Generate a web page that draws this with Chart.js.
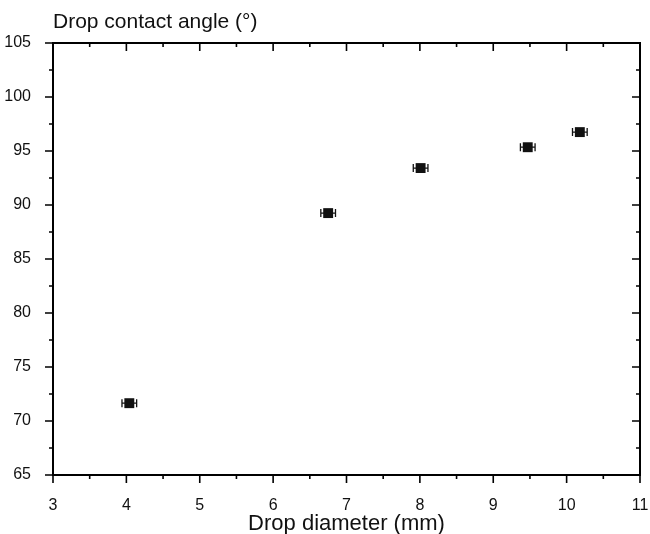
<!DOCTYPE html>
<html>
<head>
<meta charset="utf-8">
<script src="https://cdn.jsdelivr.net/npm/chart.js@4.4.0/dist/chart.umd.min.js"></script>
<style>
  html, body { margin: 0; padding: 0; background: #fff; }
  #wrap { width: 650px; height: 534px; }
</style>
</head>
<body>
<div id="wrap"><canvas id="angle"></canvas></div>
<script>
// drop diameter (mm) vs contact angle (deg)
const diameters = [4.04, 6.75, 8.01, 9.47, 10.18];
const angles = [71.65, 89.25, 93.42, 95.35, 96.75];
const diameterErr = [0.1, 0.1, 0.1, 0.1, 0.1];
const xTicks = [3, 4, 5, 6, 7, 8, 9, 10, 11];
const yTicks = [65, 70, 75, 80, 85, 90, 95, 100, 105];

const fontFamily = "'Liberation Sans', Arial, sans-serif";

const points = diameters.map((d, i) => ({ x: d, y: angles[i] }));

// frame, ticks, error bars and the y title
const frame = {
  id: "frame",
  beforeDatasetsDraw(chart) {
    const ctx = chart.ctx;
    const xs = chart.scales.x, ys = chart.scales.y;
    ctx.save();
    ctx.strokeStyle = "#111";
    ctx.lineWidth = 1.3;
    for (let i = 0; i < diameters.length; i++) {
      const y = ys.getPixelForValue(angles[i]);
      const x1 = xs.getPixelForValue(diameters[i] - diameterErr[i]);
      const x2 = xs.getPixelForValue(diameters[i] + diameterErr[i]);
      ctx.beginPath();
      ctx.moveTo(x1, y); ctx.lineTo(x2, y);
      ctx.moveTo(x1, y - 4); ctx.lineTo(x1, y + 4);
      ctx.moveTo(x2, y - 4); ctx.lineTo(x2, y + 4);
      ctx.stroke();
    }
    ctx.restore();
  },
  afterDraw(chart) {
    const ctx = chart.ctx;
    const a = chart.chartArea;
    const xs = chart.scales.x, ys = chart.scales.y;
    ctx.save();
    ctx.strokeStyle = "#000";
    ctx.lineWidth = 2;
    ctx.strokeRect(a.left, a.top, a.right - a.left, a.bottom - a.top);

    ctx.lineWidth = 1.6;
    ctx.beginPath();
    for (let v = 3; v <= 11.001; v += 0.5) {
      const x = xs.getPixelForValue(v);
      const len = Number.isInteger(v) ? 8 : 4;
      ctx.moveTo(x, a.bottom); ctx.lineTo(x, a.bottom + len);
      ctx.moveTo(x, a.top); ctx.lineTo(x, a.top + len);
    }
    for (let v = 65; v <= 105.001; v += 2.5) {
      const y = ys.getPixelForValue(v);
      const len = v % 5 === 0 ? 8 : 4;
      ctx.moveTo(a.left, y); ctx.lineTo(a.left - len, y);
      ctx.moveTo(a.right, y); ctx.lineTo(a.right - len, y);
    }
    ctx.stroke();

    ctx.fillStyle = "#111";
    ctx.font = "21px " + fontFamily;
    ctx.textBaseline = "middle";
    ctx.textAlign = "left";
    ctx.fillText("Drop contact angle (°)", a.left, 22);
    ctx.restore();
  }
};

new Chart("angle", {
  type: "scatter",
  data: {
    datasets: [{
      data: points,
      pointStyle: "rect",
      pointRadius: 7,
      pointHoverRadius: 7,
      backgroundColor: "#111",
      borderColor: "#111",
      borderWidth: 0
    }]
  },
  options: {
    responsive: true,
    maintainAspectRatio: false,
    animation: false,
    layout: { padding: { top: 43, right: 0, left: 0, bottom: 0 } },
    plugins: {
      legend: { display: false },
      tooltip: { enabled: false }
    },
    scales: {
      x: {
        type: "linear",
        min: 3,
        max: 11,
        afterBuildTicks: s => { s.ticks = xTicks.map(v => ({ value: v })); },
        afterFit: s => { s.height = 59; s.paddingRight = 10; s.paddingLeft = 0; },
        grid: { display: false },
        border: { display: false },
        ticks: {
          color: "#111",
          padding: 13,
          font: { family: fontFamily, size: 16 }
        },
        title: {
          display: true,
          text: "Drop diameter (mm)",
          color: "#111",
          padding: { top: 0, bottom: -3 },
          font: { family: fontFamily, size: 22 }
        }
      },
      y: {
        min: 65,
        max: 105,
        afterBuildTicks: s => { s.ticks = yTicks.map(v => ({ value: v })); },
        afterFit: s => { s.width = 53; },
        grid: { display: false },
        border: { display: false },
        ticks: {
          color: "#111",
          padding: 14,
          font: { family: fontFamily, size: 16 }
        }
      }
    }
  },
  plugins: [frame]
});
</script>
</body>
</html>
